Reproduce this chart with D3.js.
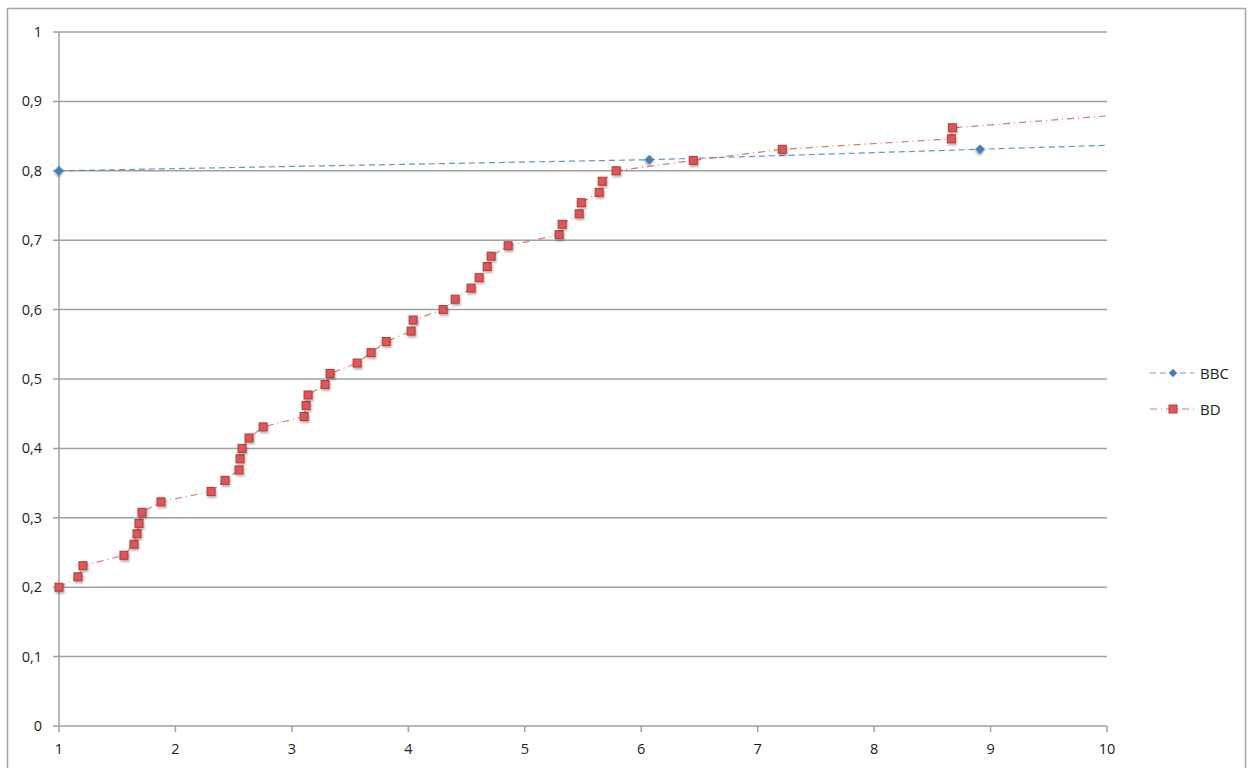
<!DOCTYPE html>
<html>
<head>
<meta charset="utf-8">
<script src="https://cdn.jsdelivr.net/npm/d3@7"></script>
<style>
  body { margin: 0; background: #fff; }
  text { font-family: "Open Sans", "DejaVu Sans", sans-serif; font-size: 14.5px; fill: #222; }
</style>
</head>
<body>
<div id="chart"></div>
<script>
// series values
var bbcX = [1, 6.07, 8.91, 11];
var bbcY = [0.8, 0.816, 0.831, 0.842];

var bdX = [1, 1.163, 1.206, 1.558, 1.644, 1.67, 1.687, 1.713, 1.876, 2.306,
           2.426, 2.546, 2.555, 2.572, 2.632, 2.753, 3.105, 3.122, 3.139, 3.285,
           3.328, 3.56, 3.68, 3.81, 4.024, 4.041, 4.299, 4.402, 4.539, 4.608,
           4.677, 4.711, 4.857, 5.295, 5.321, 5.467, 5.485, 5.639, 5.665, 5.785,
           6.447, 7.211, 8.663, 8.672, 11];
var bdY = [0.2, 0.215, 0.231, 0.246, 0.262, 0.277, 0.292, 0.308, 0.323, 0.338,
           0.354, 0.369, 0.385, 0.4, 0.415, 0.431, 0.446, 0.462, 0.477, 0.492,
           0.508, 0.523, 0.538, 0.554, 0.569, 0.585, 0.6, 0.615, 0.631, 0.646,
           0.662, 0.677, 0.692, 0.708, 0.723, 0.738, 0.754, 0.769, 0.785, 0.8,
           0.815, 0.831, 0.846, 0.862, 0.892];

var xTicks = [1, 2, 3, 4, 5, 6, 7, 8, 9, 10];
var yTicks = [0, 0.1, 0.2, 0.3, 0.4, 0.5, 0.6, 0.7, 0.8, 0.9, 1];
var seriesNames = ["BBC", "BD"];

var width = 1254, height = 768;
var x = d3.scaleLinear().domain([1, 10]).range([59, 1107]);
var y = d3.scaleLinear().domain([0, 1]).range([726, 32]);

var svg = d3.select("#chart").append("svg")
  .attr("width", width).attr("height", height);

var defs = svg.append("defs");
defs.append("clipPath").attr("id", "plot")
  .append("rect").attr("x", 50).attr("y", 20).attr("width", 1057).attr("height", 720);
var f = defs.append("filter").attr("id", "shadow")
  .attr("x", "-50%").attr("y", "-50%").attr("width", "200%").attr("height", "200%");
f.append("feDropShadow").attr("dx", 1).attr("dy", 2).attr("stdDeviation", 1.2)
  .attr("flood-color", "#000").attr("flood-opacity", 0.3);

// outer frame
svg.append("rect").attr("x", 7.5).attr("y", 8.5).attr("width", 1238).attr("height", 790)
  .attr("fill", "none").attr("stroke", "#a6a6a6").attr("stroke-width", 1.5);

// horizontal grid
svg.selectAll(".grid").data(yTicks).enter().append("line")
  .attr("class", "grid")
  .attr("x1", 53).attr("x2", 1107)
  .attr("y1", d => y(d)).attr("y2", d => y(d))
  .attr("stroke", "#a0a0a0").attr("stroke-width", 1.5);

// y axis line
svg.append("line").attr("x1", 59).attr("x2", 59).attr("y1", y(1)).attr("y2", y(0))
  .attr("stroke", "#a0a0a0").attr("stroke-width", 1.5);

// x ticks
svg.selectAll(".xtick").data(xTicks).enter().append("line")
  .attr("x1", d => x(d)).attr("x2", d => x(d))
  .attr("y1", 726).attr("y2", 732)
  .attr("stroke", "#a0a0a0").attr("stroke-width", 1.5);

svg.selectAll(".xlab").data(xTicks).enter().append("text")
  .attr("x", d => x(d)).attr("y", 754)
  .attr("text-anchor", "middle")
  .text(d => d);

svg.selectAll(".ylab").data(yTicks).enter().append("text")
  .attr("x", 42).attr("y", d => y(d) + 5)
  .attr("text-anchor", "end")
  .text(d => d === 0 || d === 1 ? String(d) : d3.format(".1f")(d).replace(".", ","));

var plot = svg.append("g").attr("clip-path", "url(#plot)");

var line = d3.line().x(d => x(d[0])).y(d => y(d[1]));
var bbc = d3.zip(bbcX, bbcY);
var bd = d3.zip(bdX, bdY);

plot.append("path").datum(bbc).attr("d", line)
  .attr("fill", "none").attr("stroke", "#4f81bd").attr("stroke-width", 1.2)
  .attr("stroke-dasharray", "6,4").attr("opacity", 0.85);
plot.append("path").datum(bd).attr("d", line)
  .attr("fill", "none").attr("stroke", "#d9534f").attr("stroke-width", 1.2)
  .attr("stroke-dasharray", "7,4,1,4").attr("opacity", 0.8);

plot.selectAll(".bbc").data(bbc).enter().append("rect")
  .attr("x", -3).attr("y", -3).attr("width", 6).attr("height", 6)
  .attr("transform", d => "translate(" + x(d[0]) + "," + y(d[1]) + ") rotate(45)")
  .attr("fill", "#4a7ebb").attr("stroke", "#3b6aa0").attr("stroke-width", 0.8)
  .attr("filter", "url(#shadow)");

plot.selectAll(".bd").data(bd).enter().append("rect")
  .attr("x", d => x(d[0]) - 4).attr("y", d => y(d[1]) - 4)
  .attr("width", 8).attr("height", 8)
  .attr("fill", "#e05555").attr("stroke", "#b03a3a").attr("stroke-width", 1)
  .attr("filter", "url(#shadow)");

// legend
var leg = svg.append("g");
var legY = [373, 409];
var legColors = ["#4f81bd", "#d9534f"];
var legDash = ["6,4", "7,4,1,4"];
seriesNames.forEach(function(name, i) {
  leg.append("line").attr("x1", 1150).attr("x2", 1194)
    .attr("y1", legY[i]).attr("y2", legY[i])
    .attr("stroke", legColors[i]).attr("stroke-width", 1.2)
    .attr("stroke-dasharray", legDash[i]).attr("opacity", 0.8);
  if (i === 0) {
    leg.append("rect").attr("x", -3).attr("y", -3).attr("width", 6).attr("height", 6)
      .attr("transform", "translate(1173," + legY[i] + ") rotate(45)")
      .attr("fill", "#4a7ebb");
  } else {
    leg.append("rect").attr("x", 1169).attr("y", legY[i] - 4)
      .attr("width", 8).attr("height", 8)
      .attr("fill", "#e05555").attr("stroke", "#b03a3a");
  }
  leg.append("text").attr("x", 1200).attr("y", legY[i] + 6)
    .style("font-size", "15px").text(name);
});
</script>
</body>
</html>
